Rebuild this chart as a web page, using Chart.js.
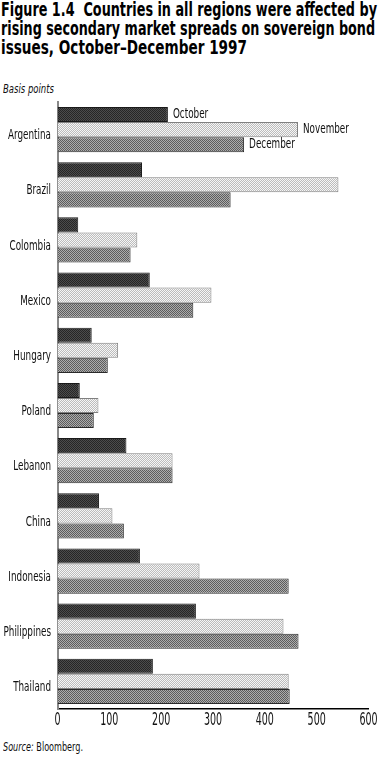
<!DOCTYPE html>
<html><head><meta charset="utf-8">
<script src="https://cdn.jsdelivr.net/npm/chart.js@4/dist/chart.umd.min.js"></script>
<style>
html,body{margin:0;padding:0;background:#fff;width:379px;height:760px;overflow:hidden;}
.t{position:absolute;white-space:nowrap;transform-origin:0 0;font-family:'DejaVu Sans',sans-serif;color:#000;}
.title{font-weight:bold;font-size:19px;line-height:19px;left:1px;}
#unit{left:3px;top:82px;font-style:italic;font-size:12px;color:#111;}
#source{left:3px;top:740px;font-size:12px;color:#111;}
#wrap{position:absolute;left:0;top:95px;width:379px;height:640px;}
</style></head><body>
<div class="t title" style="top:0px" data-w="376">Figure 1.4&nbsp; Countries in all regions were affected by</div>
<div class="t title" style="top:19px" data-w="374">rising secondary market spreads on sovereign bond</div>
<div class="t title" style="top:38px" data-w="246">issues, October–December 1997</div>
<div class="t" id="unit" data-w="51">Basis points</div>
<div class="t" id="source" data-w="80"><i>Source:</i> Bloomberg.</div>
<div id="wrap"><canvas id="c" width="379" height="640"></canvas></div>
<script>
const countries = ['Argentina','Brazil','Colombia','Mexico','Hungary','Poland','Lebanon','China','Indonesia','Philippines','Thailand'];
const october  = [213,163,40,178,66,43,133,80,159,267,184];
const november = [464,542,154,297,117,79,222,106,274,436,446];
const december = [360,334,141,262,97,70,222,128,446,465,448];
const seriesNames = ['October','November','December'];
const xTicks = [0,100,200,300,400,500,600];

document.querySelectorAll('[data-w]').forEach(el=>{
  const w=el.getBoundingClientRect().width;
  el.style.transform='scaleX('+(parseFloat(el.dataset.w)/w)+')';
});

function pattern(a,b){
  const c=document.createElement('canvas');c.width=2;c.height=2;
  const g=c.getContext('2d');
  g.fillStyle=a;g.fillRect(0,0,2,2);
  g.fillStyle=b;g.fillRect(0,0,1,1);g.fillRect(1,1,1,1);
  return g.createPattern(c,'repeat');
}
const ctx=document.getElementById('c').getContext('2d');
const pOct=pattern('#262626','#4c4c4c');
const pNov=pattern('#f6f6f6','#bcbcbc');
const pDec=pattern('#5c5c5c','#acacac');

const FONT="'DejaVu Sans',sans-serif";
Chart.defaults.font.family=FONT;

// condensed text helper
function ctext(c,str,x,y,align,size,k){
  c.save();
  c.font=size+'px '+FONT;
  c.textBaseline='middle';
  const w=c.measureText(str).width*k;
  let x0=x; if(align==='right')x0=x-w; else if(align==='center')x0=x-w/2;
  c.translate(x0,y);c.scale(k,1);c.textAlign='left';
  c.fillText(str,0,0);
  c.restore();
}
let KLAB=0.58;
const textPlugin={
  id:'textPlugin',
  afterDraw(chart){
    const c=chart.ctx;
    c.save();
    c.font='14px '+FONT;
    KLAB=43/c.measureText('Argentina').width;
    c.fillStyle='#111';
    const ys=chart.scales.y, xs=chart.scales.x;
    countries.forEach((n,i)=>{
      ctext(c,n,51,ys.getPixelForValue(i)+6,'right',14,KLAB);
    });
    chart.data.datasets.forEach((ds,i)=>{
      const el=chart.getDatasetMeta(i).data[0];
      ctext(c,seriesNames[i],el.x+5,el.y,'left',14,KLAB);
    });
    xTicks.forEach(v=>{
      ctext(c,String(v),xs.getPixelForValue(v),chart.chartArea.bottom+12,'center',17,0.56);
    });
    c.restore();
  }
};

new Chart(ctx,{
  type:'bar',
  data:{
    labels:countries,
    datasets:[
      {label:seriesNames[0],data:october,backgroundColor:pOct,borderColor:'#1a1a1a',borderWidth:1},
      {label:seriesNames[1],data:november,backgroundColor:pNov,borderColor:'#808080',borderWidth:1},
      {label:seriesNames[2],data:december,backgroundColor:pDec,borderColor:'#2a2a2a',borderWidth:1}
    ]
  },
  options:{
    indexAxis:'y',
    responsive:false,
    animation:false,
    devicePixelRatio:1,
    layout:{padding:{top:7,right:10.5,left:0,bottom:0}},
    datasets:{bar:{categoryPercentage:0.82,barPercentage:1}},
    plugins:{legend:{display:false},tooltip:{enabled:false}},
    scales:{
      x:{
        min:0,max:600,
        afterBuildTicks(s){s.ticks=xTicks.map(v=>({value:v}));},
        grid:{display:false,drawTicks:false},
        border:{display:true,color:'#000',width:1.5},
        ticks:{display:false},
        afterFit(s){s.height=26;}
      },
      y:{
        grid:{display:false,drawTicks:false},
        border:{display:true,color:'#888',width:2,dash:[1,1]},
        ticks:{display:false},
        afterFit(s){s.width=57.5;}
      }
    }
  },
  plugins:[textPlugin]
});
</script>
</body></html>
